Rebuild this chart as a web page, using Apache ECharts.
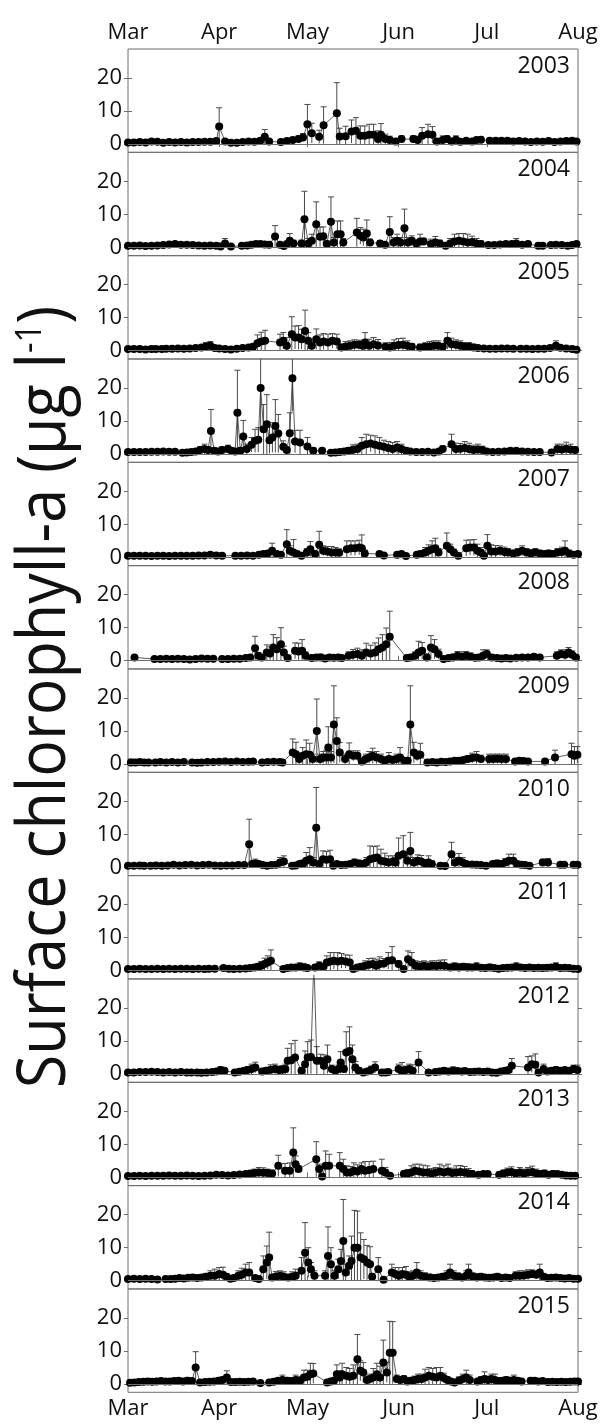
<!DOCTYPE html>
<html>
<head>
<meta charset="utf-8">
<script src="https://cdn.jsdelivr.net/npm/echarts@6/dist/echarts.min.js"></script>
<style>
  html, body { margin: 0; padding: 0; background: #fff; }
  #chart { width: 601px; height: 1424px; }
</style>
</head>
<body>
<div id="chart"></div>
<script>
// days since 1 March; each point is [day, mean, sd]
const years = ['2003', '2004', '2005', '2006', '2007', '2008', '2009', '2010', '2011', '2012', '2013', '2014', '2015']
const monthLabels = ['Mar', 'Apr', 'May', 'Jun', 'Jul', 'Aug']
const monthDays = [0, 31, 61, 92, 122, 153]
const yTicks = [0, 10, 20]

const y2003 = [[0,0.5,0.4],[2,0.5,0.4],[4,0.6,0.4],[6,0.5,0.4],[8,0.8,0.5],[10,0.7,0.5],[12,0.4,0.3],[14,0.6,0.4],[16,0.5,0.4],[18,0.6,0.4],[20,0.5,0.4],[22,0.6,0.4],[24,0.6,0.4],[26,0.7,0.5],[28,0.7,0.5],[30,0.9,0.6],[31,5.3,5.7],[33,0.8,0.6],[35,0.4,0.4],[37,0.4,0.4],[39,0.6,0.4],[41,0.8,0.5],[43,0.7,0.5],[45,1.0,0.8],[46.5,2.2,2.2],[48,0.8,0.6],[52,0.6,0.5],[54,0.9,0.6],[56,1.2,0.8],[58,1.5,1.0],[59.5,2.0,1.2],[61,6.0,6.0],[62.5,3.3,3],[65,2.2,2],[66.5,5.7,5.6],[71,9.3,9.3],[72,2.3,2.5],[74,2.4,3],[76,3.8,3.5],[77.5,4,4],[79,2.5,3],[80.5,2.5,3],[82,2.8,3.2],[83.5,2.8,3.2],[85,1.5,2.5],[86,2.8,3.4],[87.5,1.5,1.5],[89,1.2,1.2],[91,0.8,0.8],[93,1.5,1],[97,1.5,1],[98.5,1.2,1.2],[100,2.5,2.5],[102,3,3],[103.5,2.8,2.5],[105,0.8,0.8],[107,1.2,1.3],[108.5,1.5,1],[110,0.8,0.8],[111.5,1.3,1.2],[113,0.7,0.6],[115,1.0,0.6],[117,0.8,0.6],[118.5,1.2,0.8],[120,1.3,0.8],[123,1.0,0.5],[125,1.0,0.5],[127,1.0,0.5],[129,1.0,0.5],[131,0.8,0.5],[133,0.9,0.4],[135,0.8,0.4],[137,0.6,0.4],[139,0.8,0.4],[141,0.7,0.4],[143,0.9,0.4],[145,0.6,0.4],[147,0.8,0.5],[149,0.9,0.5],[151,1.0,0.5],[152.5,0.8,0.4]]
const y2004 = [[0,0.5,0.4],[2,0.5,0.4],[4,0.6,0.4],[6,0.4,0.4],[8,0.5,0.4],[10,0.6,0.4],[12,0.7,0.5],[14,0.9,0.6],[16,1.0,0.6],[18,0.8,0.5],[20,0.8,0.5],[22,0.7,0.5],[24,0.6,0.4],[26,0.5,0.4],[28,0.6,0.4],[30,0.5,0.4],[31.5,0.3,0.3],[33,1.2,1.5],[35,0.3,0.3],[38.7,0.5,0.4],[40.5,0.6,0.4],[42,0.8,0.5],[43.5,1.0,0.6],[45,1.0,0.6],[46.5,0.9,0.5],[48,0.8,0.5],[50,3.3,3.3],[51.7,0.8,0.6],[53,0.4,0.4],[54,1.0,0.8],[55,2.0,2.2],[56.3,1.2,1],[59,1.2,1],[60,8.5,8.5],[61.3,1.2,1.5],[62.5,2.0,2],[64,7.0,6.8],[65.3,3.2,3],[66.4,3.4,2.8],[67.6,1.0,1],[69,7.8,7.5],[70,1.5,1.5],[71.2,4,4],[72.3,4,4],[73.2,1.5,1.2],[77.8,4.5,4.3],[79,3.5,2.5],[80,3.0,2.5],[81.2,4.2,4.1],[82.3,1.5,1],[85.7,1.2,0.8],[87.4,0.8,0.6],[89,4.7,4.6],[90.3,1.5,1.5],[91.5,2,2],[92.7,1.5,1.5],[94,5.8,5.8],[95.2,1.5,1.5],[96.5,2,1.5],[98,1.2,1],[99.3,1.8,2.2],[100.5,1.8,1],[103,1.0,1.5],[104.5,1.5,1.8],[106,1.2,1],[108,0.5,0.5],[109.5,1.2,1.5],[111,1.8,2.2],[112.5,2.0,2.2],[114,1.8,2.4],[115.5,1.5,2.5],[117,1.6,1.8],[118.5,1.2,1.5],[120,1.0,1.0],[122.5,0.7,0.5],[124.5,0.7,0.5],[126.5,0.9,0.6],[128.5,1.0,0.6],[130.5,1.0,0.6],[132,1.2,1.5],[134,0.8,0.6],[136,1.0,0.5],[139.5,0.5,0.4],[141,0.5,0.4],[143.8,0.7,0.4],[145.5,0.8,0.4],[147.5,0.7,0.4],[149.5,0.5,0.4],[151,0.7,0.4],[152.5,1.0,0.5]]
const y2005 = [[0,0.5,0.3],[2,0.5,0.3],[4,0.5,0.3],[6,0.4,0.3],[8,0.5,0.3],[9.5,0.5,0.3],[11.5,0.5,0.3],[13,0.6,0.4],[15,0.6,0.4],[17,0.7,0.4],[19,0.6,0.4],[21,0.7,0.4],[23,0.8,0.5],[25,1.0,0.8],[26.5,1.3,1.2],[28,1.5,1.3],[29.5,0.8,0.6],[31,0.7,0.5],[33,0.5,0.4],[35,0.4,0.4],[37,0.6,0.4],[39,0.8,0.5],[41,1.0,0.6],[42.5,1.2,0.8],[44,2.3,2.5],[45.3,2.8,2.8],[46.6,3.0,3.2],[51.7,2.5,2.5],[52.8,3.0,2.5],[54,1.5,2.5],[55.7,5.0,5.3],[56.8,4.0,3.5],[58,4.0,3.6],[59,3.5,3.0],[60.2,6.0,6.3],[61.3,3.0,2.5],[62.5,1.5,1.5],[64,3.5,3.1],[65.3,2.5,2.3],[66.5,2.8,2.4],[68,2.5,2.5],[69.5,3.0,2.2],[71,2.8,2.2],[72.5,1.0,1.0],[74,1.3,1.5],[75.5,1.5,1.5],[77,1.8,1.5],[78.5,1.8,1.4],[79.8,1.5,1.5],[80.6,2.5,3.0],[82,1.5,2.0],[83.5,2.0,2.0],[85,1.6,1.8],[87.5,1.2,1.2],[89,1.0,1.5],[90.5,1.5,1.8],[92,1.7,2.0],[93.5,1.8,2.0],[95,1.5,1.5],[96.5,1.2,1.0],[99.3,1.0,1.0],[101,1.2,1.2],[102.5,1.3,1.5],[104,1.5,1.5],[105.5,1.5,1.5],[107,1.2,1.0],[108.6,3.0,2.5],[110,2.0,1.8],[111.5,1.8,1.5],[113,1.5,1.5],[114.5,1.2,1.3],[116,1.2,1.3],[117.5,1.0,1.0],[119,0.8,0.6],[121,0.7,0.5],[123,0.6,0.4],[125,0.6,0.4],[127,0.7,0.4],[129,0.7,0.4],[131,0.6,0.4],[133.5,0.6,0.4],[135.5,0.6,0.4],[137.5,0.5,0.4],[139.5,0.6,0.4],[141.5,0.6,0.4],[143.5,0.8,0.5],[145.5,1.5,1.5],[147,0.9,0.6],[149,0.7,0.5],[151,0.5,0.4],[152.5,0.3,0.3]]
const y2006 = [[0,0.6,0.3],[2,0.6,0.3],[4,0.6,0.3],[6,0.6,0.3],[8,0.7,0.4],[10,0.7,0.4],[12,0.8,0.4],[14,0.7,0.4],[16,0.7,0.4],[18.5,0.4,0.3],[20,0.5,0.3],[21.5,0.6,0.4],[23,0.8,0.5],[24.5,1.2,1],[26,1.5,1.5],[27.2,1.2,1],[28.2,7,6.5],[29.3,1.0,0.8],[30.6,0.8,0.6],[32,1.2,1],[34,1.5,1.2],[35.2,1.0,0.8],[36.4,0.8,0.6],[37.2,12.5,12.9],[38.2,1.0,1],[39.2,5.3,4.9],[40.4,1.5,1.5],[42,2.8,2.2],[43.2,4,3.5],[44.3,4.3,3.7],[45.1,20,12],[46.1,7.5,7.5],[47.2,9,9],[48.1,4.2,4],[49.1,5,4.5],[50.1,8.5,8],[51.1,6.2,5.8],[52.8,2.2,1.8],[54,1.2,1],[55,6.3,6.2],[55.9,23,10],[56.8,3.8,3.4],[58.5,3.5,3.7],[61,2.3,2.7],[63,1.0,0.8],[66,1.0,0.6],[69,0.4,0.3],[70.5,0.5,0.4],[72,0.6,0.4],[73.5,0.8,0.5],[75,1.0,1],[76.5,1.3,1.5],[78,1.5,1.5],[79.5,2.5,2.5],[81,3.0,3.0],[82.5,3.2,2.5],[84,2.8,2.7],[85.5,2.5,2.5],[87,2.2,2],[88.5,1.8,2],[90,1.5,2],[91.5,2.0,1.8],[93,1.5,1.5],[94.5,1.0,1],[96,0.8,0.6],[98,0.6,0.4],[100,0.6,0.4],[102,0.7,0.4],[104,0.5,0.4],[105.7,0.8,0.5],[107,1.5,1],[110,3.0,3.0],[111.5,1.5,1.8],[113,1.6,1.6],[114.5,1.8,2],[116,1.5,1.8],[117.5,1.2,1.5],[119,1.4,1.6],[120.5,1.2,1.2],[122,0.8,0.6],[124,0.6,0.4],[126,0.7,0.4],[128,0.8,0.5],[130,1.0,0.6],[132,1.0,0.6],[134,0.8,0.5],[136,0.7,0.4],[138,0.6,0.4],[140,0.6,0.4],[144,0.5,0.3],[146,1.5,1.5],[147.5,1.4,1.6],[149,1.6,2.0],[150.5,1.4,1.6],[152,1.2,1.0]]
const y2007 = [[0,0.5,0.3],[2,0.5,0.3],[4,0.5,0.3],[6,0.5,0.3],[8,0.4,0.3],[10,0.5,0.3],[12,0.5,0.3],[14,0.4,0.3],[16,0.5,0.3],[18,0.5,0.3],[20,0.5,0.3],[22,0.5,0.3],[24,0.6,0.4],[26,0.6,0.4],[28,0.8,0.5],[30,0.6,0.4],[32,0.5,0.4],[36.5,0.5,0.3],[38.5,0.5,0.3],[40.5,0.6,0.4],[42.5,0.5,0.3],[44.5,0.8,0.5],[46,1.0,0.6],[47.5,1.2,0.8],[49,2.0,2.3],[50.6,1.0,0.8],[52,0.8,0.6],[54,4.0,4.4],[55,2.0,1.5],[56.3,1.5,3.9],[57.5,1.0,0.8],[59,0.5,0.4],[60.8,1.5,1.2],[62,2.5,2.3],[63.6,1.0,0.8],[65,3.8,4.1],[66.4,2.0,1.5],[67.8,1.8,1.5],[69.2,1.5,1.8],[70.6,1.5,1.5],[71.8,1.4,1.2],[74.4,2.5,2.5],[75.8,2.8,2.2],[77.2,2.8,2.2],[78.6,3.0,2.2],[79.5,2.8,4],[80.5,1.2,1],[85.5,1.0,0.6],[87,0.6,0.5],[91.5,0.8,0.5],[93,1.0,0.6],[94.5,0.4,0.3],[98.2,0.8,0.6],[99.5,1.0,1],[101,1.5,1.5],[102.2,2.0,1.8],[103.4,2.5,2.5],[104.5,2.8,3],[105.6,1.5,1.2],[108.4,3.5,3.9],[109.6,2.5,1.5],[110.8,1.5,1],[112.3,0.5,0.5],[115,2.8,2.4],[116.3,3.0,2.3],[117.6,3.0,2.4],[118.8,2.0,2],[120,1.5,1.5],[121,0.5,0.5],[122.2,3.5,3.4],[123.5,1.8,2],[125,1.8,1.8],[126.5,2.0,1.5],[128,1.6,1.5],[129.2,1.5,1.2],[131,1.2,1],[132.5,1.5,1.2],[134,2.0,1.5],[135.5,1.5,1.2],[137,1.2,1.2],[138.5,1.5,1.2],[140,1.2,1],[141.5,1.0,0.8],[143,1.2,1],[144.5,1.0,0.8],[146,1.5,1.2],[147.5,1.6,1.5],[148.6,2.0,3.0],[150,1.2,1],[151.5,0.8,0.5],[153,1.0,0.6]]
const y2008 = [[2.2,1.0,0.3],[9,0.5,0.3],[11,0.5,0.3],[13,0.6,0.3],[15,0.5,0.3],[17,0.6,0.3],[19,0.5,0.3],[21,0.4,0.3],[23,0.5,0.3],[25,0.7,0.4],[27,0.6,0.4],[29,0.6,0.4],[32,0.5,0.3],[34,0.5,0.3],[36,0.6,0.4],[38,0.6,0.4],[40,0.8,0.5],[41.5,1.0,0.8],[43.2,3.8,3.6],[44.3,1.5,1],[45.5,1.0,0.8],[47.2,2.5,2.3],[48.3,2.2,2],[49.4,4.0,3.9],[50.6,3.5,3.5],[52,5.0,5.0],[53,2.5,1.9],[54.3,0.8,0.6],[56.8,3.0,2.4],[58,2.8,2.5],[59.2,3.0,3.4],[60.4,1.5,1.2],[62.5,0.8,0.6],[64,1.0,0.8],[65.5,1.0,1],[67,0.7,0.5],[68.5,1.0,0.8],[70,0.9,0.8],[71.5,1.0,0.8],[72.7,0.8,0.6],[75,1.5,1.2],[76.5,1.8,1.6],[78,2.0,1.8],[79.5,1.5,1.8],[81,2.5,2.8],[82.5,2.2,2.5],[84,2.5,2.9],[85.2,3.5,3.4],[86.5,4.0,3.9],[87.8,5.0,4.9],[89,7.3,7.7],[94.8,0.8,0.6],[96,1.0,0.8],[97.6,1.5,1.2],[98.8,2.5,3.4],[100,3.0,2.5],[101.6,1.0,1],[103,4.0,3.6],[104.2,3.5,2.9],[105.6,2.0,1.5],[107.3,0.5,0.5],[109,0.8,0.6],[110.5,1.0,1],[112,1.5,1.3],[113.5,1.2,1.5],[115,1.5,1.3],[116.5,1.2,1.2],[118,0.9,0.8],[119.3,1.0,0.8],[120.7,1.5,1.8],[122,2.0,1.3],[123.7,1.0,0.8],[125.5,0.8,0.6],[127,0.7,0.5],[128.5,0.8,0.5],[130,0.7,0.5],[132,0.9,0.6],[134,1.0,0.6],[136,1.0,0.6],[138,1.2,0.8],[140,1.0,0.6],[145.8,1.5,1.2],[147.2,2.0,1.3],[148.6,1.8,1.5],[149.8,2.5,1.5],[151,1.8,1.2],[152.3,1.0,0.6]]
const y2009 = [[1,0.5,1.0],[2.5,0.5,0.3],[4,0.6,0.3],[5.5,0.5,0.3],[7,0.5,0.3],[9.3,0.5,0.3],[11,0.6,0.3],[13,0.5,0.3],[15,0.6,0.3],[17,0.5,0.3],[19,0.6,0.3],[21.8,0.5,0.3],[23.5,0.4,0.3],[25,0.5,0.3],[27,0.6,0.3],[29,0.6,0.3],[31,0.7,0.4],[33,0.8,0.5],[35,0.6,0.4],[37,0.8,0.4],[39,0.6,0.4],[41,0.7,0.4],[42.5,0.8,0.5],[45.6,0.5,0.3],[47.5,0.6,0.3],[49.5,0.7,0.4],[51.5,0.6,0.4],[52.5,0.5,0.3],[56,3.5,4.1],[57.1,3.0,3.6],[58.2,1.5,1.5],[59.4,2.5,2.5],[60.6,3.0,4.3],[61.8,2.8,3.5],[62.8,1.5,1.5],[64.2,10,9.7],[65.3,1.5,1.5],[66.4,2.0,1.8],[67.4,2.0,2.2],[68.1,5.0,6.3],[69,2.0,1.8],[70,12,11.7],[71,7,7],[72,3.5,3],[73.8,1.5,1.5],[75.2,3.0,3.4],[76.6,2.5,1.5],[78,2.5,1.5],[79.5,0.8,0.8],[80.8,1.5,1.5],[82,2.0,1.8],[83.2,2.5,2.3],[84.5,2.0,1.8],[86,1.5,1.5],[87.3,1.0,1.2],[88.7,1.5,2],[90,1.2,1.2],[91.3,1.5,1.5],[92.5,2.0,3.0],[94,1.0,1],[95.1,1.0,0.8],[96,12,11.7],[97.2,3.5,3.1],[98.3,2.5,1.5],[99.4,2.8,3.5],[101.8,0.5,0.4],[103.5,0.6,0.4],[105,0.5,0.4],[106.5,0.7,0.4],[108,0.6,0.4],[109.5,0.8,0.5],[111,1.0,0.6],[112.5,1.0,0.6],[114,1.2,0.8],[115.5,1.5,1],[117,1.8,1.5],[118.5,2.0,1.8],[120,1.5,1.2],[122.8,1.5,1.5],[124.2,1.5,1.5],[125.6,1.6,1.4],[127,1.5,1.5],[128.5,1.5,1.5],[131.6,0.8,0.5],[133,1.0,0.6],[134.5,0.9,0.5],[136,0.8,0.5],[141.8,0.8,0.5],[145.2,2.0,2.2],[150.8,3.0,3.3],[151.8,2.5,2.8],[152.8,2.8,2.5]]
const y2010 = [[0,0.5,0.3],[2,0.5,0.3],[4,0.6,0.3],[5.5,0.5,0.3],[7.7,0.5,0.3],[9.5,0.6,0.3],[11.5,0.5,0.3],[13.5,0.6,0.3],[15.5,0.8,0.5],[17.5,0.6,0.4],[19.5,0.7,0.4],[21.5,0.8,0.5],[23.5,0.6,0.4],[25.5,0.7,0.4],[27.5,0.8,0.5],[29.5,0.6,0.4],[31.5,0.5,0.3],[33.5,0.6,0.3],[35.5,0.6,0.3],[37.5,0.7,0.4],[39.5,0.7,0.4],[41.2,7.0,7.6],[42.2,1.0,0.8],[43.3,1.2,1.3],[44.5,1.0,0.8],[45.8,0.7,0.5],[47.3,0.5,0.4],[48.8,0.7,0.5],[50.3,0.8,0.5],[51.7,1.5,1.5],[53,1.8,1.7],[55.8,0.5,0.4],[57,0.6,0.4],[58.3,1.0,0.6],[59.5,1.2,1],[60.6,2.0,2.5],[61.8,2.5,3.5],[63,1.5,1.5],[64,12,12.2],[65,1.0,1],[66.3,2.5,2.5],[67.5,2.3,2.5],[68.7,2.5,2.7],[69.8,0.5,0.5],[71,1.0,0.8],[72.5,0.7,0.5],[74,0.8,0.6],[75.5,1.0,0.8],[77,1.5,1.0],[78.5,1.2,1.0],[80,1.0,1],[81,1.5,1.5],[82.3,2.5,4.0],[83.5,2.8,3.5],[84.7,3.0,3.5],[86,2.0,3.5],[87.3,1.8,2.5],[88.6,1.5,2],[90,1.8,1.7],[91,1.5,1.5],[92,3.5,5.4],[93.6,4.0,5.6],[95,2.0,2.0],[96,5.0,5.6],[97.2,1.5,1.5],[98.5,2.0,1.8],[99.7,1.8,1.8],[101,1.2,1.2],[102.2,1.5,2],[103.3,1.0,1],[106.2,0.5,0.4],[107.8,0.4,0.3],[110,4.0,3.6],[111.2,1.5,1.5],[112.5,2.0,2.2],[113.8,1.5,1.5],[115,1.0,0.8],[117,0.9,0.6],[118.5,0.8,0.5],[120,0.7,0.5],[121.7,0.5,0.4],[124,1.0,0.6],[125.5,1.2,1],[127,1.0,1],[128.3,1.5,1.2],[129.5,2.0,2.0],[131,2.0,2.0],[132.3,1.0,0.8],[133.7,0.8,0.5],[135,0.7,0.4],[136.5,0.5,0.3],[141,1.5,1.0],[142.8,1.5,1.2],[147,0.8,0.5],[148.3,0.8,0.5],[151.5,0.8,0.5],[152.8,0.8,0.5]]
const y2011 = [[0,0.5,0.3],[2,0.5,0.3],[4,0.6,0.3],[6,0.5,0.3],[8,0.5,0.3],[10,0.6,0.3],[12,0.5,0.3],[14,0.6,0.3],[16,0.5,0.3],[18,0.6,0.3],[20,0.6,0.3],[22,0.5,0.3],[24,0.6,0.3],[26,0.5,0.3],[27.5,0.6,0.3],[29.5,0.6,0.3],[32.5,0.8,0.4],[34.3,0.6,0.3],[36,0.5,0.3],[38,0.6,0.4],[40,0.7,0.4],[41.5,0.8,0.5],[43,1.0,0.8],[44.2,1.2,1],[45.3,1.5,1.3],[46.4,2.0,1.8],[47.5,2.5,2.0],[48.6,3.0,3.3],[52.8,0.5,0.4],[54.2,0.8,0.5],[55.6,1.0,0.6],[57,1.0,0.8],[58.4,1.2,1.2],[59.8,1.0,1.2],[61,0.8,0.6],[63.6,1.0,0.8],[65,1.5,1.2],[66.4,1.2,1],[67.6,2.5,2],[68.8,2.8,2.7],[70,3.0,2.5],[71.3,2.8,2.7],[72.6,3.0,2.2],[74,2.8,2],[75.4,2.5,2.2],[76.6,0.5,0.5],[78,1.0,0.8],[79.3,1.2,1],[80.6,1.5,1.5],[81.9,1.8,1.9],[83.2,2.0,1.8],[84.4,1.5,2],[85.6,2.0,2.2],[87,2.2,1.5],[88.5,3.0,2.5],[89.8,3.2,4.1],[92,2.0,1],[93.7,0.5,0.5],[95.2,3.5,2.5],[96.5,2.5,3.0],[97.8,1.5,1.5],[99.2,1.3,1.5],[100.6,1.5,1.5],[102,1.2,1.5],[103.4,1.5,1.5],[104.8,1.4,1.6],[106.2,1.6,1.6],[107.6,1.5,1.8],[109.6,1.0,1],[111,1.2,1.2],[112.5,1.0,1.2],[114,1.2,1],[115.5,1.0,1.2],[117,1.0,0.8],[118.5,1.2,1.2],[120,0.9,0.8],[121.5,0.8,0.6],[123,1.0,1.0],[124.5,0.8,0.6],[126,0.6,0.4],[127.5,0.8,0.6],[129,0.9,0.6],[130.5,1.0,0.8],[132,1.2,1.2],[133.5,1.0,0.8],[135,0.8,0.6],[136.5,1.0,0.8],[138,0.8,0.6],[139.5,0.9,0.6],[141,0.8,0.6],[142.5,0.9,0.8],[144,1.0,0.8],[145.5,1.2,1.2],[147,0.8,0.6],[148.5,0.9,0.6],[150,0.8,0.5],[151.5,0.6,0.4],[153,0.5,0.3]]
const y2012 = [[0,0.5,0.3],[2,0.5,0.3],[4,0.6,0.3],[6,0.6,0.3],[8,0.7,0.4],[10,0.6,0.4],[12,0.5,0.3],[14,0.6,0.3],[16,0.5,0.3],[18,0.6,0.3],[20,0.5,0.3],[21.5,0.5,0.3],[23.5,0.5,0.3],[25,0.4,0.3],[26.7,0.5,0.3],[28.6,0.6,0.3],[30,0.8,0.5],[31.5,1.2,1],[32.8,1.0,0.6],[36.3,0.5,0.4],[37.8,0.7,0.5],[39.2,0.9,0.6],[40.6,1.2,1],[42,1.5,1.5],[43.3,2.0,1.6],[45.6,0.8,0.6],[47,1.0,1.0],[48.5,1.3,1.5],[50,1.5,1.5],[51.3,1.2,1.2],[52.5,1.3,1.3],[53.5,1.5,1.5],[54.3,4.0,3.8],[55.5,4.2,5.0],[56.8,5.0,5.2],[59,1.0,1],[60.2,3.0,4],[61.1,5.0,4.8],[62.2,5.2,5.1],[63.2,35,5],[64.2,4.0,4.3],[65.5,4.0,2],[66.6,2.5,3.3],[67.8,4.5,4.3],[69.3,1.5,1.2],[70.5,1.0,1],[71.6,1.5,1.2],[72.3,3.5,3.3],[73.4,1.5,1],[74.2,6.5,6.3],[75.3,7.0,7.3],[76.3,4.5,4.3],[77.3,2.0,1.8],[78.5,1.0,1],[80,0.5,0.5],[81.3,0.8,0.8],[82.6,1.2,1.2],[84,2.0,1.7],[86.3,0.5,0.4],[87.5,0.5,0.4],[88.5,0.6,0.4],[92,1.5,1.5],[93.2,1.0,2.5],[94.4,1.2,1.2],[95.6,1.5,1.5],[96.8,1.0,1.8],[98.8,3.5,3.3],[102.2,0.5,0.3],[104.5,0.6,0.4],[106,0.8,0.5],[107.5,1.0,0.8],[109,0.8,0.6],[110.5,1.0,1.2],[112,0.9,0.6],[113.5,0.8,0.6],[114.6,0.9,0.6],[116.3,0.6,0.4],[117.8,0.7,0.5],[119.3,0.8,0.6],[120.8,0.6,0.4],[122.3,0.8,0.8],[123.8,0.5,0.4],[125.3,0.4,0.3],[126.8,0.8,0.5],[128.2,1.0,0.6],[129.4,1.2,0.8],[130.5,2.5,2.2],[136,2.0,3.3],[137.3,3.0,2.5],[138.5,2.8,3.3],[139.6,0.5,0.5],[141.3,1.5,1.5],[142.6,0.8,0.6],[144,1.0,0.8],[145.5,1.2,1],[147,1.0,0.8],[148.5,1.2,0.8],[150,1.0,0.8],[151.5,1.5,1.2],[152.8,1.2,1.5]]
const y2013 = [[0,0.4,0.3],[2,0.4,0.3],[4,0.5,0.3],[6,0.4,0.3],[8,0.5,0.3],[10,0.5,0.3],[12,0.5,0.3],[14,0.6,0.3],[16,0.5,0.3],[18,0.5,0.3],[20,0.6,0.3],[22,0.5,0.3],[24,0.4,0.3],[26,0.5,0.3],[28,0.6,0.4],[30,0.8,0.4],[32,0.7,0.4],[34,0.6,0.4],[36,0.7,0.4],[38,0.9,0.5],[40,1.0,0.6],[41.5,1.2,0.8],[43,1.3,1.2],[44.5,1.5,1.5],[46,1.4,1.5],[47.5,1.3,1.2],[49,1.2,1],[51.1,3.5,3.2],[53.4,2.0,2.2],[55,2.0,2.4],[56.2,7.5,7.5],[57,4.0,2.5],[58,2.5,1.1],[64,5.5,5.3],[65,2.5,1.5],[66,0.3,0.3],[67.2,3.5,4.5],[68.4,3.5,3.5],[72,3.5,4],[73.2,2.5,3],[74.4,1.5,2],[75.6,1.5,1.8],[76.8,2.0,2.4],[78,1.8,2],[79.4,2.5,1.9],[80.6,2.0,2.8],[82,2.2,2.6],[83.4,2.5,2.4],[86.3,2.0,3.5],[87.5,1.5,1.5],[89.1,0.5,0.5],[93.8,1.0,1],[95,1.2,1.2],[96.3,1.5,2],[97.6,2.0,2],[99,1.8,2.2],[100.4,1.5,2.2],[101.8,1.5,2],[103.2,1.2,1.5],[104.6,1.5,1.5],[106,1.8,2.2],[107.4,1.5,2],[108.8,1.8,2.2],[110.2,1.3,1.5],[111.6,1.5,2],[113,1.6,2],[114.4,1.5,1.8],[115.8,1.2,1.5],[117,1.0,1],[119.2,0.8,0.6],[120.8,1.0,0.6],[122.3,1.0,0.6],[126.2,0.8,0.6],[127.6,1.2,1],[129,1.5,1.3],[130.4,1.6,1.6],[131.8,1.2,1.2],[133.2,1.5,1.5],[134.6,1.2,1.3],[136,1.5,1.5],[137.4,1.6,1.8],[138.8,1.2,1.3],[140.2,1.0,1],[141.6,1.2,1],[143,0.8,0.6],[144.5,1.0,1],[146,1.0,0.8],[147.5,0.8,0.6],[149,0.6,0.4],[150.5,0.5,0.4],[152,0.5,0.3]]
const y2014 = [[0,0.5,0.3],[2,0.6,0.3],[4,0.5,0.3],[6,0.6,0.3],[8,0.5,0.3],[10,0.4,0.3],[12.8,0.5,0.3],[14.5,0.5,0.3],[16,0.6,0.4],[17.5,0.8,0.5],[19,0.7,0.5],[20.5,0.9,0.6],[22,1.0,0.6],[23.5,0.8,0.5],[25,1.0,0.8],[26.5,1.2,1],[28,1.5,1.5],[29.5,1.5,2],[31,2.0,2.0],[32.3,1.8,2.3],[33.5,1.2,1.0],[34.8,0.6,0.4],[36,0.8,0.8],[37.5,1.5,1.5],[38.7,1.8,2],[40,2.5,2.5],[41.2,2.5,3.0],[43.2,0.8,0.8],[44.5,0.5,0.5],[46,3.5,4],[47.2,5.5,5],[48,7.0,7.7],[49,1.0,0.8],[50.3,1.3,1.5],[51.7,1.5,1.5],[53,1.2,1.5],[54.5,1.0,0.8],[55.8,1.2,1.5],[57,1.5,2],[59,3.0,4],[60.2,8.5,9.1],[61.3,5.5,4.5],[62.2,3.5,2],[63.4,1.5,1.5],[67,1.5,1.5],[68,7.5,8.8],[69,5.0,5],[70.2,1.5,1.5],[71.5,3.5,3],[72.4,6.0,3.5],[73.2,12,12.6],[74,2.5,2.5],[75.2,4.5,3],[76,6.0,7.5],[77,10,11.3],[78,10,11.1],[79.1,7.0,7.5],[80.2,6.5,6],[81.3,5.5,5.2],[82.3,5.0,5.3],[83,1.2,1],[85.1,3.5,3.5],[86.9,0.3,0.3],[89.7,2.5,2.5],[90.9,2.0,2],[92.1,1.5,2.5],[93.3,2.0,2.0],[94.5,1.8,2.5],[95.7,1.2,1.5],[96.9,1.5,1.5],[98.2,2.5,3],[99.5,1.5,1.5],[101,1.2,1.2],[102.5,1.0,1],[104,0.8,0.6],[105.5,1.0,0.8],[107,1.2,1],[108.3,1.5,1.5],[109.5,2.5,2.5],[110.8,1.5,1.5],[112.2,1.2,1.2],[113.6,1.0,1],[115,1.5,1.5],[115.8,2.5,2.5],[117.2,1.2,1.2],[118.6,1.0,1.2],[120,1.2,1],[121.4,1.0,0.8],[122.8,0.9,0.8],[124.2,1.0,0.8],[125.6,1.2,1],[127,0.8,0.6],[128.4,1.0,0.8],[129.8,0.8,0.6],[131.8,1.5,1.2],[133.2,1.5,1.5],[134.6,1.6,1.4],[136,1.8,1.5],[137.4,2.0,1.3],[138.8,1.8,1.2],[140,2.5,2.5],[141.3,1.2,1],[142.6,0.8,0.6],[144,0.9,0.6],[145.5,1.0,0.8],[147,0.8,0.6],[148.5,0.7,0.5],[150,0.8,0.5],[151.5,0.6,0.4],[153,0.6,0.4]]
const y2015 = [[0.7,0.4,0.3],[2.2,0.5,0.3],[3.7,0.6,0.4],[5.2,0.7,0.4],[6.7,0.8,0.5],[8.2,0.7,0.5],[9.7,0.8,0.5],[11.2,0.9,0.5],[12.7,0.8,0.5],[14.2,0.8,0.5],[15.7,0.9,0.6],[17.2,1.0,0.8],[18.7,0.8,0.6],[20.2,1.0,1.0],[21.7,0.9,0.8],[23,5.0,4.8],[24.5,0.5,0.4],[26.2,0.6,0.4],[27.7,0.7,0.5],[29.2,0.8,0.5],[30.7,1.0,0.6],[32.2,1.2,1],[33.6,2.0,2],[35,0.6,0.4],[36.5,0.6,0.4],[38,0.7,0.4],[39.5,0.6,0.4],[41,0.7,0.4],[42.5,0.8,0.5],[45,0.3,0.3],[48,0.5,0.4],[49.5,0.7,0.5],[51,1.0,0.8],[52.5,1.2,1.5],[54,1.0,1],[55.5,0.9,0.8],[57,1.2,1.5],[58.5,1.0,1.2],[59.8,2.0,2.2],[61,2.2,2],[62,3.0,3.3],[63,3.2,3],[67.7,0.5,0.4],[68.9,0.8,0.5],[70,1.0,0.8],[71,3.0,2.8],[72,2.0,2],[72.8,3.0,3.3],[74.2,2.5,2.5],[75.4,2.2,2.5],[76.6,2.5,3.3],[78,7.5,7.5],[79,4.0,3],[80,3.5,3],[81.2,1.2,1.2],[82.2,1.5,1.5],[83.4,2.0,2.7],[84.6,3.0,3.3],[85.7,2.0,3.4],[86.8,6.5,6.8],[88,3.5,3],[89,9.5,9.5],[90,9.5,9.4],[91.4,1.5,1.2],[92.6,1.2,1],[93.8,1.5,1],[95,0.8,0.6],[96.2,1.0,1],[97.4,1.2,1.2],[98.6,1.5,1.5],[99.8,1.5,1.5],[101,2.0,2.5],[102.3,2.5,2.5],[103.6,2.2,2.5],[104.9,2.0,3],[106.2,2.5,2.5],[107.4,1.8,1.5],[108.6,1.2,1],[109.8,0.8,0.6],[111,0.5,0.4],[112.5,1.0,1.2],[113.8,1.5,1.5],[115,2.0,2.2],[116.2,1.2,1.5],[118.8,0.8,0.6],[120,1.2,1],[121.2,1.5,2.2],[122.4,1.2,1.2],[123.6,1.5,1.5],[124.8,1.2,1.8],[126,0.9,0.8],[127.3,1.0,0.8],[128.6,1.2,1],[129.9,1.0,1],[131.2,1.2,1.5],[132.5,1.0,0.8],[133.8,0.8,0.6],[136.9,1.0,0.8],[138.2,1.0,0.8],[139.5,0.8,0.6],[141,0.9,0.6],[142.8,0.6,0.4],[144.3,0.7,0.4],[145.8,0.6,0.4],[147.3,0.7,0.4],[148.8,0.6,0.4],[150.3,0.7,0.5],[151.8,0.8,0.5],[153,0.8,0.5]]

const yearData = [y2003, y2004, y2005, y2006, y2007, y2008, y2009, y2010, y2011, y2012, y2013, y2014, y2015]

const FONT = '"Open Sans", sans-serif'
const AXIS_COLOR = '#6e6e6e'
const LEFT = 128
const RIGHT = 23
const TOP = 49
const PANEL_H = 103.33
const Y_MIN = -2.5
const Y_MAX = 28.8

const monthName = (v) => {
  const i = monthDays.indexOf(Math.round(v))
  return i >= 0 ? monthLabels[i] : ''
}

const renderErrorBar = (params, api) => {
  const x = api.value(0)
  const v = api.value(1)
  const e = api.value(2)
  const top = api.coord([x, v + e])
  const bot = api.coord([x, Math.max(0, v - e)])
  const clipTop = params.coordSys.y
  const style = { stroke: '#4a4a4a', lineWidth: 1 }
  const children = [{
    type: 'line',
    shape: { x1: top[0], y1: Math.max(top[1], clipTop), x2: bot[0], y2: bot[1] },
    style
  }]
  if (top[1] >= clipTop) {
    children.push({
      type: 'line',
      shape: { x1: top[0] - 3, y1: top[1], x2: top[0] + 3, y2: top[1] },
      style
    })
  }
  return { type: 'group', children }
}

const grid = []
const xAxis = []
const yAxis = []
const series = []
const graphic = []

years.forEach((yr, i) => {
  const top = TOP + PANEL_H * i
  grid.push({
    left: LEFT, right: RIGHT, top: top, height: PANEL_H,
    show: true, borderColor: AXIS_COLOR, borderWidth: 1
  })
  xAxis.push({
    gridIndex: i,
    type: 'value',
    min: 0,
    max: 153,
    position: 'bottom',
    axisLine: { show: false },
    splitLine: { show: false },
    axisTick: {
      show: true, inside: true, length: 5,
      customValues: monthDays.slice(1, 5),
      lineStyle: { color: AXIS_COLOR }
    },
    axisLabel: {
      show: i === years.length - 1,
      customValues: monthDays,
      formatter: monthName,
      showMinLabel: true,
      showMaxLabel: true,
      margin: 5,
      color: '#111',
      fontSize: 22,
      fontFamily: FONT
    }
  })
  yAxis.push({
    gridIndex: i,
    type: 'value',
    min: Y_MIN,
    max: Y_MAX,
    position: 'left',
    axisLine: { show: false },
    splitLine: { show: false },
    axisTick: {
      show: true, inside: false, length: 4,
      customValues: yTicks,
      lineStyle: { color: AXIS_COLOR }
    },
    axisLabel: {
      customValues: yTicks,
      margin: 6,
      color: '#111',
      fontSize: 22,
      fontFamily: FONT
    }
  }, {
    gridIndex: i,
    type: 'value',
    min: Y_MIN,
    max: Y_MAX,
    position: 'right',
    axisLine: { show: false },
    splitLine: { show: false },
    axisTick: {
      show: true, inside: false, length: 4,
      customValues: yTicks,
      lineStyle: { color: AXIS_COLOR }
    },
    axisLabel: { show: false }
  })

  series.push({
    type: 'custom',
    xAxisIndex: i,
    yAxisIndex: i * 2,
    data: yearData[i],
    encode: { x: 0, y: 1 },
    renderItem: renderErrorBar,
    silent: true,
    z: 2
  }, {
    type: 'line',
    xAxisIndex: i,
    yAxisIndex: i * 2,
    data: yearData[i].map(d => [d[0], d[1]]),
    symbol: 'circle',
    symbolSize: 8,
    itemStyle: { color: '#000' },
    lineStyle: { color: '#333', width: 0.8 },
    silent: true,
    z: 3,
    markLine: {
      silent: true,
      symbol: 'none',
      label: { show: false },
      lineStyle: { color: AXIS_COLOR, width: 1, type: 'solid' },
      data: [{ yAxis: 0 }]
    }
  })

  graphic.push({
    type: 'text',
    x: 570,
    y: top + 17,
    style: {
      text: yr,
      textAlign: 'right',
      textVerticalAlign: 'middle',
      fontSize: 23,
      fontFamily: FONT,
      fill: '#111'
    }
  })
})

// month labels along the top of the first panel
xAxis.push({
  gridIndex: 0,
  type: 'value',
  min: 0,
  max: 153,
  position: 'top',
  axisLine: { show: false },
  splitLine: { show: false },
  axisTick: {
    show: true, inside: true, length: 3,
    customValues: monthDays.slice(1, 5),
    lineStyle: { color: AXIS_COLOR }
  },
  axisLabel: {
    customValues: monthDays,
    formatter: monthName,
    showMinLabel: true,
    showMaxLabel: true,
    margin: 5,
    color: '#111',
    fontSize: 22,
    fontFamily: FONT
  }
})

graphic.push({
  type: 'text',
  x: 46,
  y: 697,
  rotation: Math.PI / 2,
  scaleX: 0.91,
  style: {
    text: 'Surface chlorophyll-a (μg l{s|-1})',
    textAlign: 'center',
    textVerticalAlign: 'middle',
    fontSize: 67,
    fontFamily: FONT,
    fill: '#111',
    rich: {
      s: { fontSize: 36, fontFamily: FONT, fill: '#111', verticalAlign: 'top' }
    }
  }
})

const chart = echarts.init(document.getElementById('chart'), null, { renderer: 'canvas' })
chart.setOption({
  backgroundColor: '#fff',
  animation: false,
  grid,
  xAxis,
  yAxis,
  series,
  graphic
})
</script>
</body>
</html>
